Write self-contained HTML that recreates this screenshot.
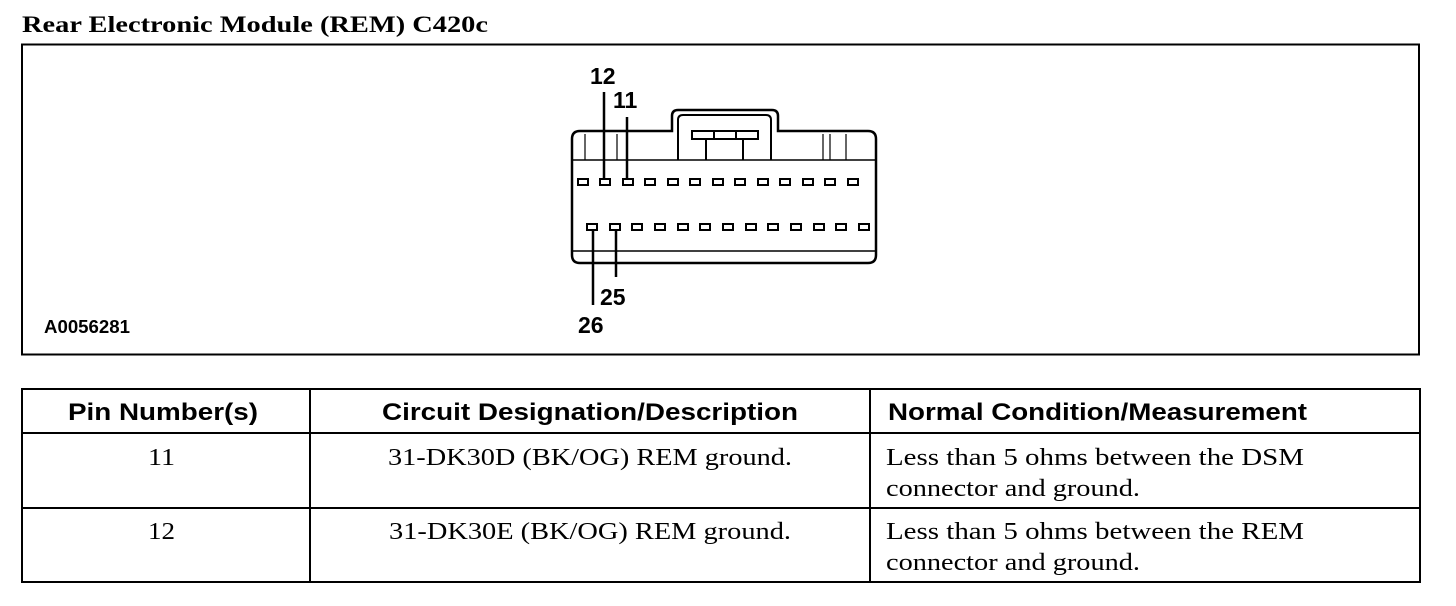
<!DOCTYPE html>
<html><head><meta charset="utf-8"><style>
html,body{margin:0;padding:0;background:#fff;}
svg{display:block}
</style></head><body>
<svg width="1456" height="606" viewBox="0 0 1456 606" xmlns="http://www.w3.org/2000/svg">
<text x="22" y="32" font-family="Liberation Serif, serif" font-weight="bold" font-size="23" textLength="466" lengthAdjust="spacingAndGlyphs">Rear Electronic Module (REM) C420c</text>
<rect x="22" y="44.5" width="1397" height="310" fill="none" stroke="#000" stroke-width="2"/>
<text x="44" y="333" font-family="Liberation Sans, sans-serif" font-weight="bold" font-size="18" textLength="86" lengthAdjust="spacingAndGlyphs">A0056281</text>
<g fill="none" stroke="#000" stroke-width="2">
<path d="M580,131 L672,131 L672,116 Q672,110 678,110 L772,110 Q778,110 778,116 L778,131 L868,131 Q876,131 876,139 L876,255 Q876,263 868,263 L580,263 Q572,263 572,255 L572,139 Q572,131 580,131 Z" stroke-width="2.5"/>
<path d="M678,160 L678,120 Q678,115 683,115 L766,115 Q771,115 771,120 L771,160"/>
<rect x="692" y="131" width="66" height="8"/>
<line x1="714" y1="131" x2="714" y2="139"/><line x1="736" y1="131" x2="736" y2="139"/>
<line x1="706" y1="139" x2="706" y2="160"/><line x1="743" y1="139" x2="743" y2="160"/>
<line x1="572" y1="160" x2="876" y2="160" stroke-width="1.5"/>
<line x1="572" y1="251" x2="876" y2="251" stroke-width="1.5"/>
<line x1="585" y1="134" x2="585" y2="160" stroke-width="1.2"/>
<line x1="617" y1="134" x2="617" y2="160" stroke-width="1.2"/>
<line x1="823" y1="134" x2="823" y2="160" stroke-width="1.2"/>
<line x1="830" y1="134" x2="830" y2="160" stroke-width="1.2"/>
<line x1="846" y1="134" x2="846" y2="160" stroke-width="1.2"/>
</g>
<g fill="#fff" stroke="#000" stroke-width="2">
<rect x="578" y="179" width="10" height="6"/><rect x="600" y="179" width="10" height="6"/><rect x="623" y="179" width="10" height="6"/><rect x="645" y="179" width="10" height="6"/><rect x="668" y="179" width="10" height="6"/><rect x="690" y="179" width="10" height="6"/><rect x="713" y="179" width="10" height="6"/><rect x="735" y="179" width="10" height="6"/><rect x="758" y="179" width="10" height="6"/><rect x="780" y="179" width="10" height="6"/><rect x="803" y="179" width="10" height="6"/><rect x="825" y="179" width="10" height="6"/><rect x="848" y="179" width="10" height="6"/>
<rect x="587" y="224" width="10" height="6"/><rect x="610" y="224" width="10" height="6"/><rect x="632" y="224" width="10" height="6"/><rect x="655" y="224" width="10" height="6"/><rect x="678" y="224" width="10" height="6"/><rect x="700" y="224" width="10" height="6"/><rect x="723" y="224" width="10" height="6"/><rect x="746" y="224" width="10" height="6"/><rect x="768" y="224" width="10" height="6"/><rect x="791" y="224" width="10" height="6"/><rect x="814" y="224" width="10" height="6"/><rect x="836" y="224" width="10" height="6"/><rect x="859" y="224" width="10" height="6"/>
</g>
<g stroke="#000" stroke-width="2.5">
<line x1="604" y1="92" x2="604" y2="179"/>
<line x1="627" y1="117" x2="627" y2="179"/>
<line x1="593" y1="230" x2="593" y2="305"/>
<line x1="616" y1="230" x2="616" y2="277"/>
</g>
<g font-family="Liberation Sans, sans-serif" font-weight="bold" font-size="23">
<text x="590" y="84">12</text>
<text x="613" y="108">11</text>
<text x="600" y="305">25</text>
<text x="578" y="333">26</text>
</g>
<g fill="none" stroke="#000" stroke-width="2">
<rect x="22" y="389" width="1398" height="193"/>
<line x1="22" y1="433" x2="1420" y2="433"/>
<line x1="22" y1="508" x2="1420" y2="508"/>
<line x1="310" y1="389" x2="310" y2="582"/>
<line x1="870" y1="389" x2="870" y2="582"/>
</g>
<g font-family="Liberation Sans, sans-serif" font-weight="bold" font-size="24" lengthAdjust="spacingAndGlyphs">
<text x="68" y="420" textLength="190" lengthAdjust="spacingAndGlyphs">Pin Number(s)</text>
<text x="382" y="420" textLength="416" lengthAdjust="spacingAndGlyphs">Circuit Designation/Description</text>
<text x="888" y="420" textLength="419" lengthAdjust="spacingAndGlyphs">Normal Condition/Measurement</text>
</g>
<g font-family="Liberation Serif, serif" font-size="24">
<text x="148" y="465" textLength="27" lengthAdjust="spacingAndGlyphs">11</text>
<text x="388" y="465" textLength="404" lengthAdjust="spacingAndGlyphs">31-DK30D (BK/OG) REM ground.</text>
<text x="886" y="465" textLength="418" lengthAdjust="spacingAndGlyphs">Less than 5 ohms between the DSM</text>
<text x="886" y="496" textLength="254" lengthAdjust="spacingAndGlyphs">connector and ground.</text>
<text x="148" y="539" textLength="27" lengthAdjust="spacingAndGlyphs">12</text>
<text x="389" y="539" textLength="402" lengthAdjust="spacingAndGlyphs">31-DK30E (BK/OG) REM ground.</text>
<text x="886" y="539" textLength="418" lengthAdjust="spacingAndGlyphs">Less than 5 ohms between the REM</text>
<text x="886" y="570" textLength="254" lengthAdjust="spacingAndGlyphs">connector and ground.</text>
</g>
</svg>
</body></html>
